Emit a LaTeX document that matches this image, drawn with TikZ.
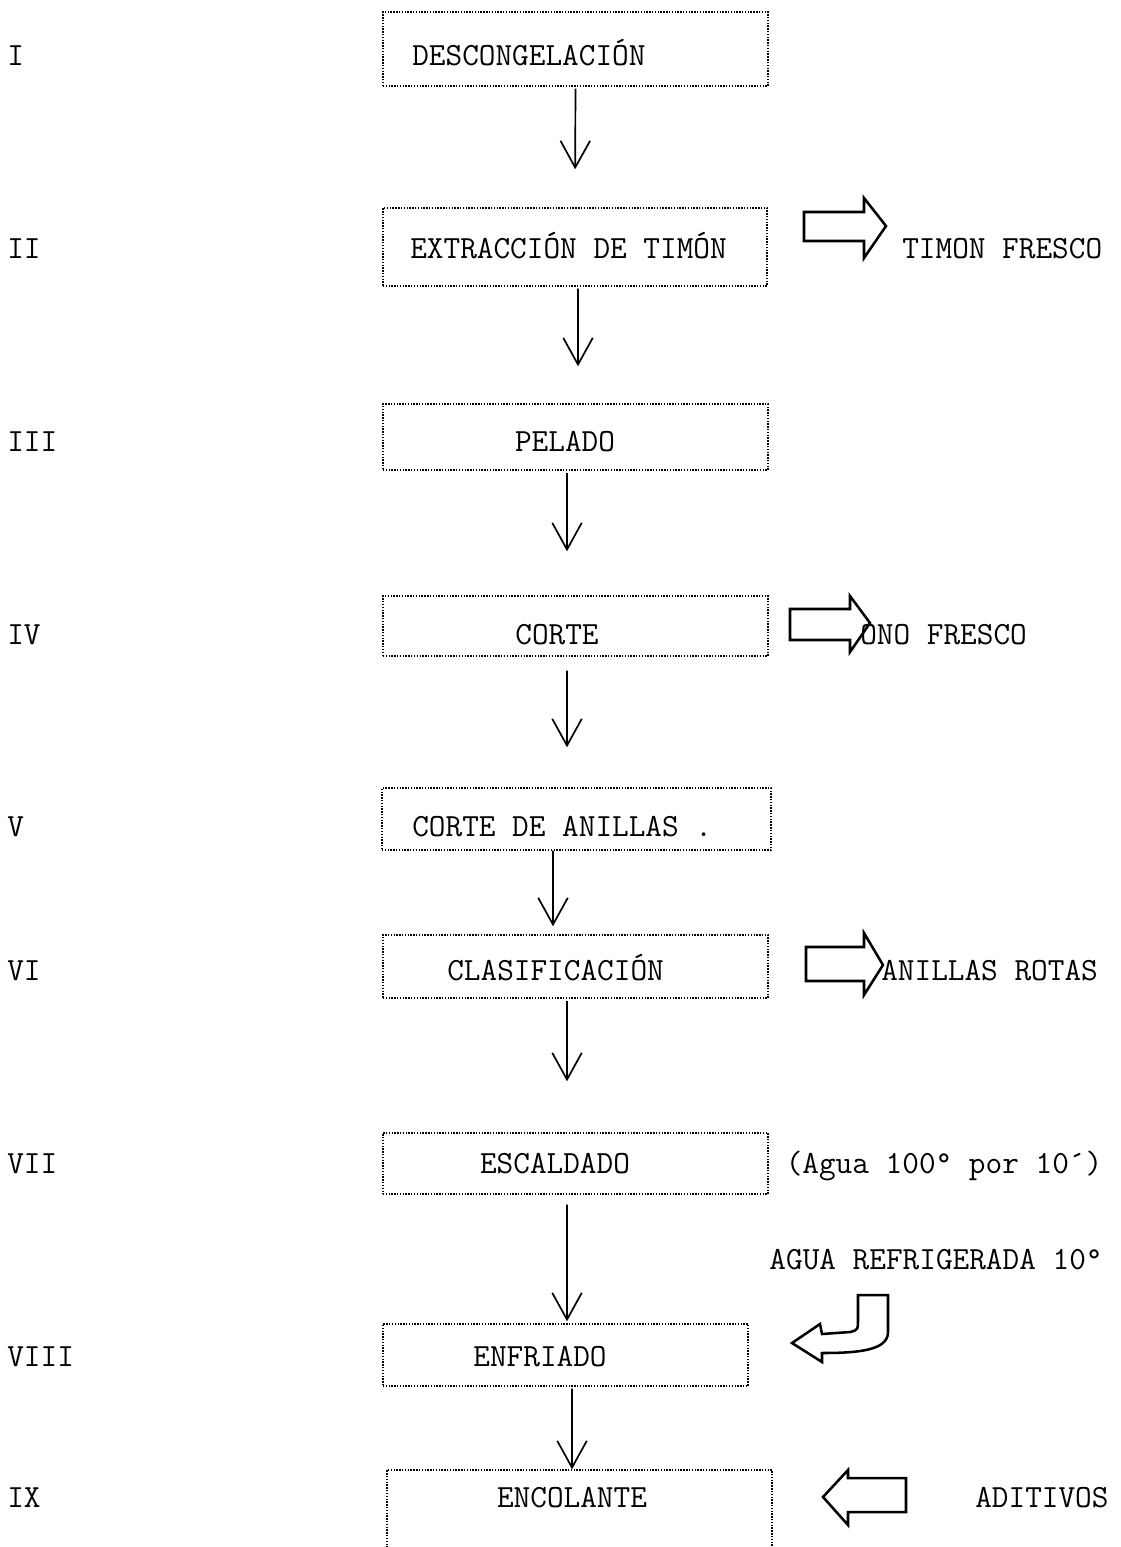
\documentclass[tikz,border=0pt]{standalone}
\usepackage{fontspec}
\usetikzlibrary{arrows.meta}

\begin{document}
\begin{tikzpicture}[x=0.025cm,y=-0.025cm,
  procbox/.style={draw,densely dotted,line width=1pt,inner sep=0pt},
  flow/.style={line width=1.2pt,-{Straight Barb[length=19pt,width=21pt]}},
  blockarrow/.style={line width=1.8pt,line join=miter},
  lbl/.style={inner sep=0pt,anchor=base west,font=\ttfamily\fontsize{23}{27}\selectfont},
  clbl/.style={lbl,anchor=base}]
  \useasboundingbox (0,0) rectangle (1120,1547);
  % etapas
  \node[procbox,minimum width=9.625cm,minimum height=1.85cm] (s1) at (575.5,49) {};
  \node[procbox,minimum width=9.6cm,minimum height=1.95cm] (s2) at (575,247) {};
  \node[procbox,minimum width=9.625cm,minimum height=1.65cm] (s3) at (575.5,437) {};
  \node[procbox,minimum width=9.625cm,minimum height=1.5cm] (s4) at (575.5,626) {};
  \node[procbox,minimum width=9.725cm,minimum height=1.55cm] (s5) at (576.5,819) {};
  \node[procbox,minimum width=9.625cm,minimum height=1.575cm] (s6) at (575.5,966.5) {};
  \node[procbox,minimum width=9.625cm,minimum height=1.525cm] (s7) at (575.5,1163.5) {};
  \node[procbox,minimum width=9.125cm,minimum height=1.55cm] (s8) at (565.5,1355) {};
  \node[procbox,minimum width=9.625cm,minimum height=2.25cm] (s9) at (579.5,1515) {};
  \node[lbl] (t1) at (412,65) {DESCONGELACIÓN};
  \node[lbl] (t2) at (410,258) {EXTRACCIÓN DE TIMÓN};
  \node[clbl] (t3) at (565,451) {PELADO};
  \node[clbl] (t4) at (557,644) {CORTE};
  \node[lbl] (t5) at (412,836) {CORTE DE ANILLAS .};
  \node[lbl] (t6) at (447,980) {CLASIFICACIÓN};
  \node[clbl] (t7) at (555,1173) {ESCALDADO};
  \node[clbl] (t8) at (540,1366) {ENFRIADO};
  \node[clbl] (t9) at (572,1507) {ENCOLANTE};
  % numeracion
  \node[lbl] (n1) at (7,65) {I};
  \node[lbl] (n2) at (7,258) {II};
  \node[lbl] (n3) at (7,451) {III};
  \node[lbl] (n4) at (7,644) {IV};
  \node[lbl] (n5) at (7,836) {V};
  \node[lbl] (n6) at (7,980) {VI};
  \node[lbl] (n7) at (7,1173) {VII};
  \node[lbl] (n8) at (7,1366) {VIII};
  \node[lbl] (n9) at (7,1507) {IX};
  % flechas del proceso
  \draw[flow,shorten <=0.05cm,shorten >=0.95cm] (s1.south) -- (s2.north);
  \draw[flow,shorten <=0.05cm,shorten >=0.925cm] ([xshift=0.075cm]s2.south) -- ([xshift=0.0625cm]s3.north);
  \draw[flow,shorten <=0.05cm,shorten >=1.1cm] ([xshift=-0.2125cm]s3.south) -- ([xshift=-0.2125cm]s4.north);
  \draw[flow,shorten <=0.35cm,shorten >=1cm] ([xshift=-0.2125cm]s4.south) -- ([xshift=-0.2375cm]s5.north);
  \draw[flow,shorten >=0.2cm] ([xshift=-0.5875cm]s5.south) -- ([xshift=-0.5625cm]s6.north);
  \draw[flow,shorten <=0.05cm,shorten >=1.275cm] ([xshift=-0.2125cm]s6.south) -- ([xshift=-0.2125cm]s7.north);
  \draw[flow,shorten <=0.25cm,shorten >=0.05cm] ([xshift=-0.2125cm]s7.south) -- ([xshift=0.0375cm]s8.north);
  \draw[flow,shorten <=0.05cm] ([xshift=0.1625cm]s8.south) -- ([xshift=-0.1875cm]s9.north);
  % salidas y entradas
  \draw[blockarrow] (804,212) -- (864,212) -- (864,198) -- (886,226) -- (864,258) -- (864,241) -- (804,241) -- cycle;
  \node[lbl] (o2) at (902,258) {TIMON FRESCO};
  \draw[blockarrow] (790,609) -- (850,609) -- (850,596) -- (870,623) -- (850,652) -- (850,640) -- (790,640) -- cycle;
  \node[lbl] (o4) at (860,644) {ONO FRESCO};
  \draw[blockarrow] (806,947) -- (864,947) -- (864,933) -- (883,965) -- (864,995) -- (864,981) -- (806,981) -- cycle;
  \node[lbl] (o6) at (881,980) {ANILLAS ROTAS};
  \node[clbl] (o7) at (944,1173) {(Agua 100° por 10´)};
  \node[clbl] (i8) at (936,1269) {AGUA REFRIGERADA 10°};
  \draw[blockarrow] (858,1295) -- (888,1295) -- (888,1332)
    .. controls (888,1350) and (860,1353) .. (822,1353) -- (822,1362) -- (792,1343)
    -- (820,1324) -- (822,1334) -- (850,1332) .. controls (858,1330) .. (858,1318) -- cycle;
  \draw[blockarrow] (906,1478) -- (848,1478) -- (848,1470) -- (823,1497) -- (848,1525) -- (848,1512) -- (906,1512) -- cycle;
  \node[lbl] (i9) at (975,1507) {ADITIVOS};
\end{tikzpicture}
\end{document}
